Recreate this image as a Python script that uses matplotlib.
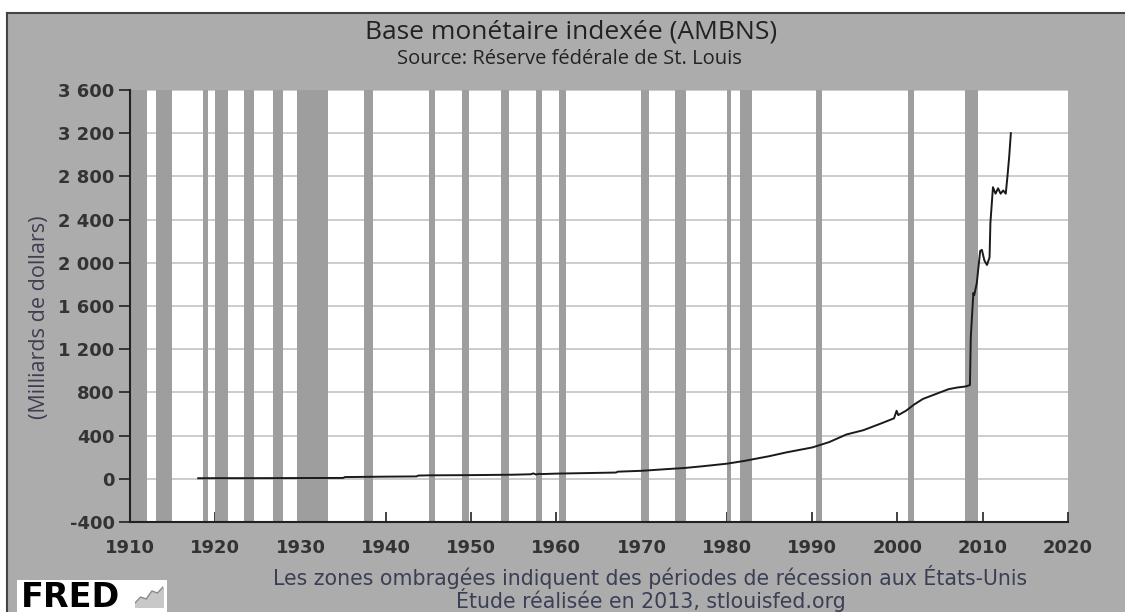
import matplotlib
matplotlib.use("Agg")
import matplotlib.pyplot as plt
from matplotlib.patches import Rectangle

# Base monétaire indexée (AMBNS), milliards de dollars
years = [1918.0, 1920.0, 1925.0, 1930.0, 1935.0, 1935.2, 1940.0, 1943.6, 1943.8,
         1945.0, 1950.0, 1955.0, 1957.0, 1957.3, 1957.6, 1958.0, 1958.4, 1960.0,
         1965.0, 1967.0, 1967.2, 1970.0, 1973.0, 1975.0, 1977.0, 1980.0, 1982.0,
         1985.0, 1987.0, 1990.0, 1992.0, 1994.0, 1996.0, 1998.0, 1999.6, 1999.9,
         2000.1, 2001.0, 2002.0, 2003.0, 2004.0, 2005.0, 2006.0, 2007.0, 2008.0,
         2008.5, 2008.6, 2008.9, 2009.0, 2009.3, 2009.7, 2009.9, 2010.2, 2010.5,
         2010.8, 2010.9, 2011.2, 2011.5, 2011.8, 2012.1, 2012.4, 2012.7, 2012.9,
         2013.1, 2013.3]
values = [5, 6, 6, 7, 8, 16, 20, 22, 30,
          32, 34, 38, 42, 50, 40, 46, 44, 48,
          55, 58, 66, 74, 90, 100, 115, 140, 165,
          210, 245, 290, 340, 410, 450, 510, 560, 630,
          590, 630, 690, 740, 770, 800, 830, 845, 855,
          868, 1310, 1720, 1700, 1810, 2110, 2120, 2020, 1980,
          2050, 2370, 2700, 2640, 2690, 2640, 2670, 2640, 2800,
          2980, 3200]

# Récessions américaines (NBER), en années décimales
rec_start = [1910.0, 1913.0, 1918.6, 1920.0, 1923.4, 1926.8, 1929.6, 1937.4, 1945.1,
             1948.9, 1953.5, 1957.6, 1960.3, 1969.9, 1973.9, 1980.0, 1981.5, 1990.5,
             2001.2, 2007.9]
rec_end = [1912.0, 1914.9, 1919.2, 1921.5, 1924.5, 1927.9, 1933.2, 1938.5, 1945.8,
           1949.8, 1954.4, 1958.3, 1961.1, 1970.9, 1975.2, 1980.5, 1982.9, 1991.2,
           2001.9, 2009.5]

y_ticks = [-400, 0, 400, 800, 1200, 1600, 2000, 2400, 2800, 3200, 3600]
x_ticks = [1910, 1920, 1930, 1940, 1950, 1960, 1970, 1980, 1990, 2000, 2010, 2020]
logo_x = [0, 1, 2, 3, 4, 5]
logo_y = [0.2, 0.5, 0.4, 0.8, 0.7, 1.0]

BG = "#acacac"
BAND = "#9e9e9e"
TXT = "#333333"
TITLE_FONT = ["Open Sans", "DejaVu Sans"]

fig = plt.figure(figsize=(11.25, 6.12), dpi=100, facecolor=BG)
# marge blanche en haut et à gauche, avec le cadre sombre
fig.patches.append(Rectangle((0, 1 - 13 / 612), 1, 13 / 612, transform=fig.transFigure,
                             facecolor="white", edgecolor="none", zorder=-5))
fig.patches.append(Rectangle((0, 0), 7 / 1125, 1, transform=fig.transFigure,
                             facecolor="white", edgecolor="none", zorder=-5))
fig.lines.append(plt.Line2D([7 / 1125, 1], [1 - 13 / 612, 1 - 13 / 612],
                            transform=fig.transFigure, color="#444444", lw=1.5))
fig.lines.append(plt.Line2D([7 / 1125, 7 / 1125], [0, 1 - 13 / 612],
                            transform=fig.transFigure, color="#444444", lw=1.5))

ax = fig.add_axes([130 / 1125, 90 / 612, 938 / 1125, 432 / 612])
ax.set_facecolor("white")
for a, b in zip(rec_start, rec_end):
    ax.axvspan(a, b, color=BAND, lw=0, zorder=1)
ax.grid(axis="y", color="#c4c4c4", lw=1.2, zorder=0)
ax.set_axisbelow(True)
ax.plot(years, values, color="#1a1a1a", lw=1.4, zorder=3)

ax.set_xlim(1910, 2020)
ax.set_ylim(-400, 3600)
ax.set_xticks(x_ticks)
ax.set_yticks(y_ticks)
ax.set_yticklabels([f"{v:,}".replace(",", " ") for v in y_ticks])
ax.tick_params(axis="x", direction="in", length=7, width=1.2, colors="#222222",
               labelsize=13, labelcolor=TXT, pad=12)
ax.tick_params(axis="y", direction="out", length=8, width=1.2, colors="#222222",
               labelsize=13, labelcolor=TXT, pad=3)
for lab in ax.get_xticklabels() + ax.get_yticklabels():
    lab.set_fontweight("bold")
for side in ("top", "right"):
    ax.spines[side].set_visible(False)
for side in ("left", "bottom"):
    ax.spines[side].set_color("#222222")
    ax.spines[side].set_linewidth(1.5)

fig.text(571 / 1125, 1 - 32 / 612, "Base monétaire indexée (AMBNS)", ha="center",
         va="center", fontsize=19, family=TITLE_FONT, color="#222222")
fig.text(569 / 1125, 1 - 59 / 612, "Source: Réserve fédérale de St. Louis", ha="center",
         va="center", fontsize=14.5, family=TITLE_FONT, color="#222222")
fig.text(40 / 1125, 1 - 317 / 612, "(Milliards de dollars)", rotation=90, ha="center",
         va="center", fontsize=15.5, family="Open Sans", color="#3e3e52")
fig.text(650 / 1125, 1 - 577 / 612,
         "Les zones ombragées indiquent des périodes de récession aux États-Unis",
         ha="center", va="center", fontsize=14.8, family="DejaVu Sans", color="#3b3f55")
fig.text(651 / 1125, 1 - 600 / 612, "Étude réalisée en 2013, stlouisfed.org",
         ha="center", va="center", fontsize=14.8, family="DejaVu Sans", color="#3b3f55")

# logo FRED
fig.patches.append(Rectangle((17 / 1125, 0), 150 / 1125, 32 / 612,
                             transform=fig.transFigure, facecolor="white",
                             edgecolor="none", zorder=1))
fig.text(21 / 1125, 1 - 607 / 612, "FRED", ha="left", va="baseline", fontsize=24,
         fontweight="bold", family="DejaVu Sans", color="black", zorder=2)
icon = fig.add_axes([135 / 1125, 5 / 612, 28 / 1125, 22 / 612], zorder=3)
icon.patch.set_visible(False)
icon.fill_between(logo_x, logo_y, color="#c8c8c8")
icon.plot(logo_x, logo_y, color="#8a8a8a", lw=1)
icon.set_xlim(0, 5)
icon.set_ylim(0, 1.1)
icon.axis("off")

fig.savefig("out.png", dpi=100, facecolor=fig.get_facecolor())
